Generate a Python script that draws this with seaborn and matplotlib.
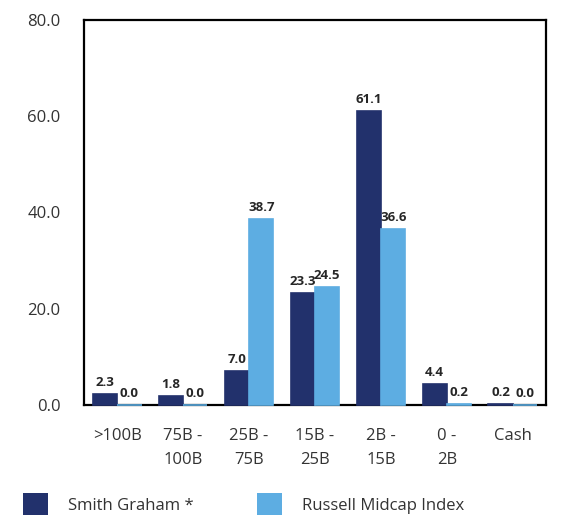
import numpy as np
import pandas as pd
import matplotlib
matplotlib.use("Agg")
import matplotlib.pyplot as plt
import seaborn as sns

# Datos
categorias = [">100B", "75B -\n100B", "25B -\n75B", "15B -\n25B", "2B -\n15B", "0 -\n2B", "Cash"]
smith_graham = [2.3, 1.8, 7.0, 23.3, 61.1, 4.4, 0.2]
russell_midcap = [0.0, 0.0, 38.7, 24.5, 36.6, 0.2, 0.0]
series = ["Smith Graham *", "Russell Midcap Index"]
colores = ["#22316c", "#5dade2"]

df = pd.DataFrame({
    "categoria": categorias * 2,
    "valor": smith_graham + russell_midcap,
    "serie": [series[0]] * len(categorias) + [series[1]] * len(categorias),
})

sns.set_style("white")
plt.rcParams["font.family"] = ["Open Sans", "DejaVu Sans"]

fig = plt.figure(figsize=(5.61, 5.15), dpi=100)
ax = fig.add_axes([0.15, 0.214, 0.823, 0.747])

sns.barplot(data=df, x="categoria", y="valor", hue="serie", palette=colores,
            width=0.74, saturation=1, ax=ax, legend=True, linewidth=0)

# barras en cero: se ven como una línea fina sobre el eje
for cont in ax.containers:
    for b in cont:
        b.set_edgecolor(b.get_facecolor())
        b.set_linewidth(1.2)
        b.set_clip_on(False)
        b.set_zorder(3)
    ax.bar_label(cont, fmt="%.1f", fontsize=9.5, fontweight="bold", padding=3.5)

ax.set_ylim(0, 80)
ax.set_xlim(-0.5, 6.5)
ax.set_yticks([0, 20, 40, 60, 80])
ax.set_yticklabels([f"{v:.1f}" for v in [0, 20, 40, 60, 80]])
ax.set_xlabel("")
ax.set_ylabel("")
ax.tick_params(axis="y", length=8, color="#d9d9d9", width=1.2,
               labelsize=12, labelcolor="#333333", pad=9)
ax.tick_params(axis="x", length=7, color="#d9d9d9", width=1.2,
               labelsize=12, labelcolor="#333333", pad=10)
for lbl in ax.get_xticklabels():
    lbl.set_linespacing(1.6)

for sp in ax.spines.values():
    sp.set_visible(True)
    sp.set_color("black")
    sp.set_linewidth(1.6)
    sp.set_zorder(2)

handles, labels = ax.get_legend_handles_labels()
ax.legend(handles, labels, loc="upper left", bbox_to_anchor=(-0.165, -0.19),
          ncol=2, frameon=False, fontsize=12, handlelength=1.5, handleheight=1.7,
          columnspacing=3.8, handletextpad=1.2, labelcolor="#333333")

plt.savefig("out.png", dpi=100)
